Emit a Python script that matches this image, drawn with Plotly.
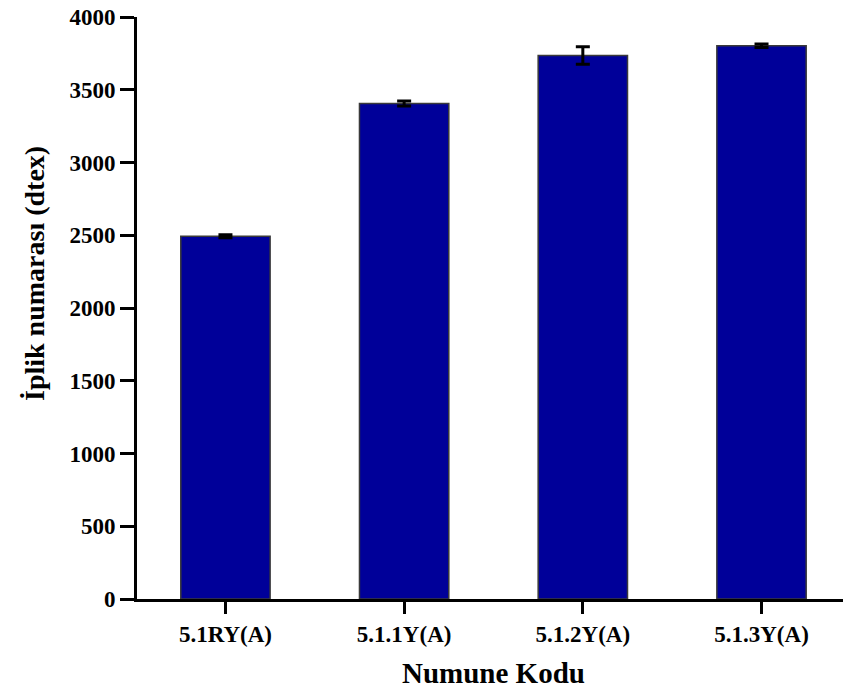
import plotly.graph_objects as go

# Yarn linear density per sample code
categories = ["5.1RY(A)", "5.1.1Y(A)", "5.1.2Y(A)", "5.1.3Y(A)"]
dtex_mean = [2493, 3405, 3735, 3802]
dtex_sd = [10, 17, 60, 12]
y_ticks = [0, 500, 1000, 1500, 2000, 2500, 3000, 3500, 4000]

FONT = "Liberation Serif"

fig = go.Figure(
    go.Bar(
        x=categories,
        y=dtex_mean,
        marker=dict(color="#000099", line=dict(color="#3a3a3a", width=1.5)),
        error_y=dict(type="data", array=dtex_sd, visible=True,
                     color="black", thickness=3, width=7),
    )
)

W, H = 843, 695
L, R, T, B = 137, 0, 17, 96
plot_w = W - L - R
plot_h = H - T - B

fig.update_layout(
    width=W,
    height=H,
    margin=dict(l=L, r=R, t=T, b=B),
    plot_bgcolor="white",
    paper_bgcolor="white",
    bargap=0.5,
    showlegend=False,
    font=dict(family=FONT, color="black"),
    xaxis=dict(
        range=[-0.495, 3.456],
        showline=True, linecolor="black", linewidth=3,
        ticks="outside", ticklen=12, tickwidth=3, tickcolor="black",
        tickfont=dict(family=FONT, size=23, color="black", weight="bold"),
        showgrid=False, zeroline=False,
    ),
    yaxis=dict(
        range=[0, 4000],
        tickvals=y_ticks,
        showline=True, linecolor="black", linewidth=3,
        ticks="outside", ticklen=14, tickwidth=3, tickcolor="black",
        tickfont=dict(family=FONT, size=23, color="black", weight="bold"),
        showgrid=False, zeroline=False,
    ),
    annotations=[
        dict(
            text="<b>İplik numarası (dtex)</b>",
            xref="paper", yref="paper",
            x=(34 - L) / plot_w, y=(H - B - 274) / plot_h,
            xanchor="center", yanchor="middle",
            textangle=-90, showarrow=False,
            font=dict(family=FONT, size=28, color="black"),
        ),
        dict(
            text="<b>Numune Kodu</b>",
            xref="paper", yref="paper",
            x=(493 - L) / plot_w, y=(H - B - 673) / plot_h,
            xanchor="center", yanchor="middle",
            showarrow=False,
            font=dict(family=FONT, size=29, color="black"),
        ),
    ],
)

fig.write_html("out.html")
